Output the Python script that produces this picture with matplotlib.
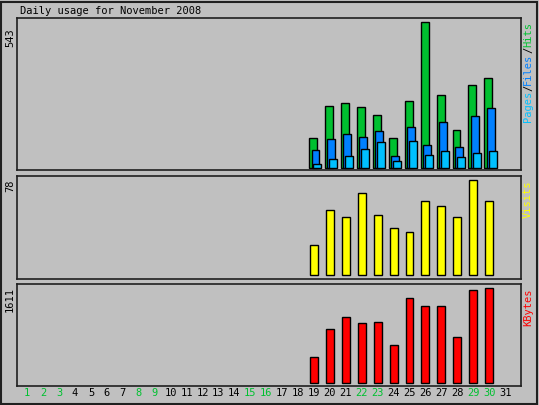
import matplotlib
matplotlib.use("Agg")
import matplotlib.pyplot as plt

days = list(range(1, 32))
data_days = list(range(19, 31))
hits = [112, 232, 243, 228, 198, 112, 251, 543, 273, 142, 307, 333]
files = [67, 108, 127, 116, 138, 45, 153, 86, 172, 78, 194, 224]
pages = [15, 34, 45, 71, 97, 26, 101, 49, 63, 41, 56, 63]
visits = [25, 53, 48, 67, 49, 39, 35, 61, 57, 48, 78, 61]
kbytes = [441, 916, 1119, 1017, 1035, 645, 1441, 1306, 1306, 780, 1577, 1611]
green_days = [1, 2, 3, 8, 9, 15, 16, 22, 23, 29, 30]

W, H = 539, 405
bg = "#C0C0C0"
fig = plt.figure(figsize=(W / 100, H / 100), dpi=100, facecolor=bg)
plt.rcParams["font.family"] = "DejaVu Sans Mono"

def make_ax(top, bottom):
    ax = fig.add_axes([17 / W, 1 - bottom / H, (521 - 17) / W, (bottom - top) / H])
    ax.set_facecolor(bg)
    ax.set_xlim(0.36, 32.0)
    ax.set_xticks([])
    ax.set_yticks([])
    for s in ax.spines.values():
        s.set_linewidth(1.2)
        s.set_color("#202020")
    return ax

bw = 0.5
ax1 = make_ax(18, 170)
ax1.set_ylim(-7.4, 558)
ax1.bar([d - 0.05 for d in data_days], hits, bw, color="#00C030", edgecolor="black", lw=1)
ax1.bar([d + 0.1 for d in data_days], files, bw, color="#0080FF", edgecolor="black", lw=1)
ax1.bar([d + 0.22 for d in data_days], pages, bw, color="#00C0FF", edgecolor="black", lw=1)

ax2 = make_ax(176, 279)
ax2.set_ylim(-3.3, 81.3)
ax2.bar(data_days, visits, bw, color="#FFFF00", edgecolor="black", lw=1)

ax3 = make_ax(284, 386)
ax3.set_ylim(-51, 1679)
ax3.bar(data_days, kbytes, bw, color="#FF0000", edgecolor="black", lw=1)

fs = 7.5
fig.text(20 / W, 1 - 11 / H, "Daily usage for November 2008", fontsize=fs, va="center")
for y, lab in [(38, "543"), (186, "78"), (300, "1611")]:
    fig.text(10 / W, 1 - y / H, lab, fontsize=fs, rotation=90, ha="center", va="center")

def right_label(ytop, parts):
    step = 0.602 * fs / 72 * 100
    n = sum(len(p) for p, _ in parts)
    y = ytop + n * step
    for p, c in parts:
        fig.text(528 / W, 1 - y / H, p, fontsize=fs, rotation=90, color=c,
                 ha="center", va="bottom")
        y -= len(p) * step

right_label(22, [("Pages", "#00C0FF"), ("/", "black"), ("Files", "#0080FF"),
                 ("/", "black"), ("Hits", "#00C030")])
right_label(180, [("Visits", "#FFFF00")])
right_label(288, [("KBytes", "#FF0000")])

for d in days:
    x = (314 + 15.93 * (d - 19)) / W
    c = "#00C030" if d in green_days else "black"
    fig.text(x, 1 - 393 / H, str(d), fontsize=fs, color=c, ha="center", va="center")

fig.patches.append(plt.Rectangle((1 / W, 1 / H), (W - 3) / W, (H - 3) / H,
                                 transform=fig.transFigure, fill=False,
                                 edgecolor="#202020", lw=1.5))
fig.savefig("out.png", dpi=100, facecolor=bg)
